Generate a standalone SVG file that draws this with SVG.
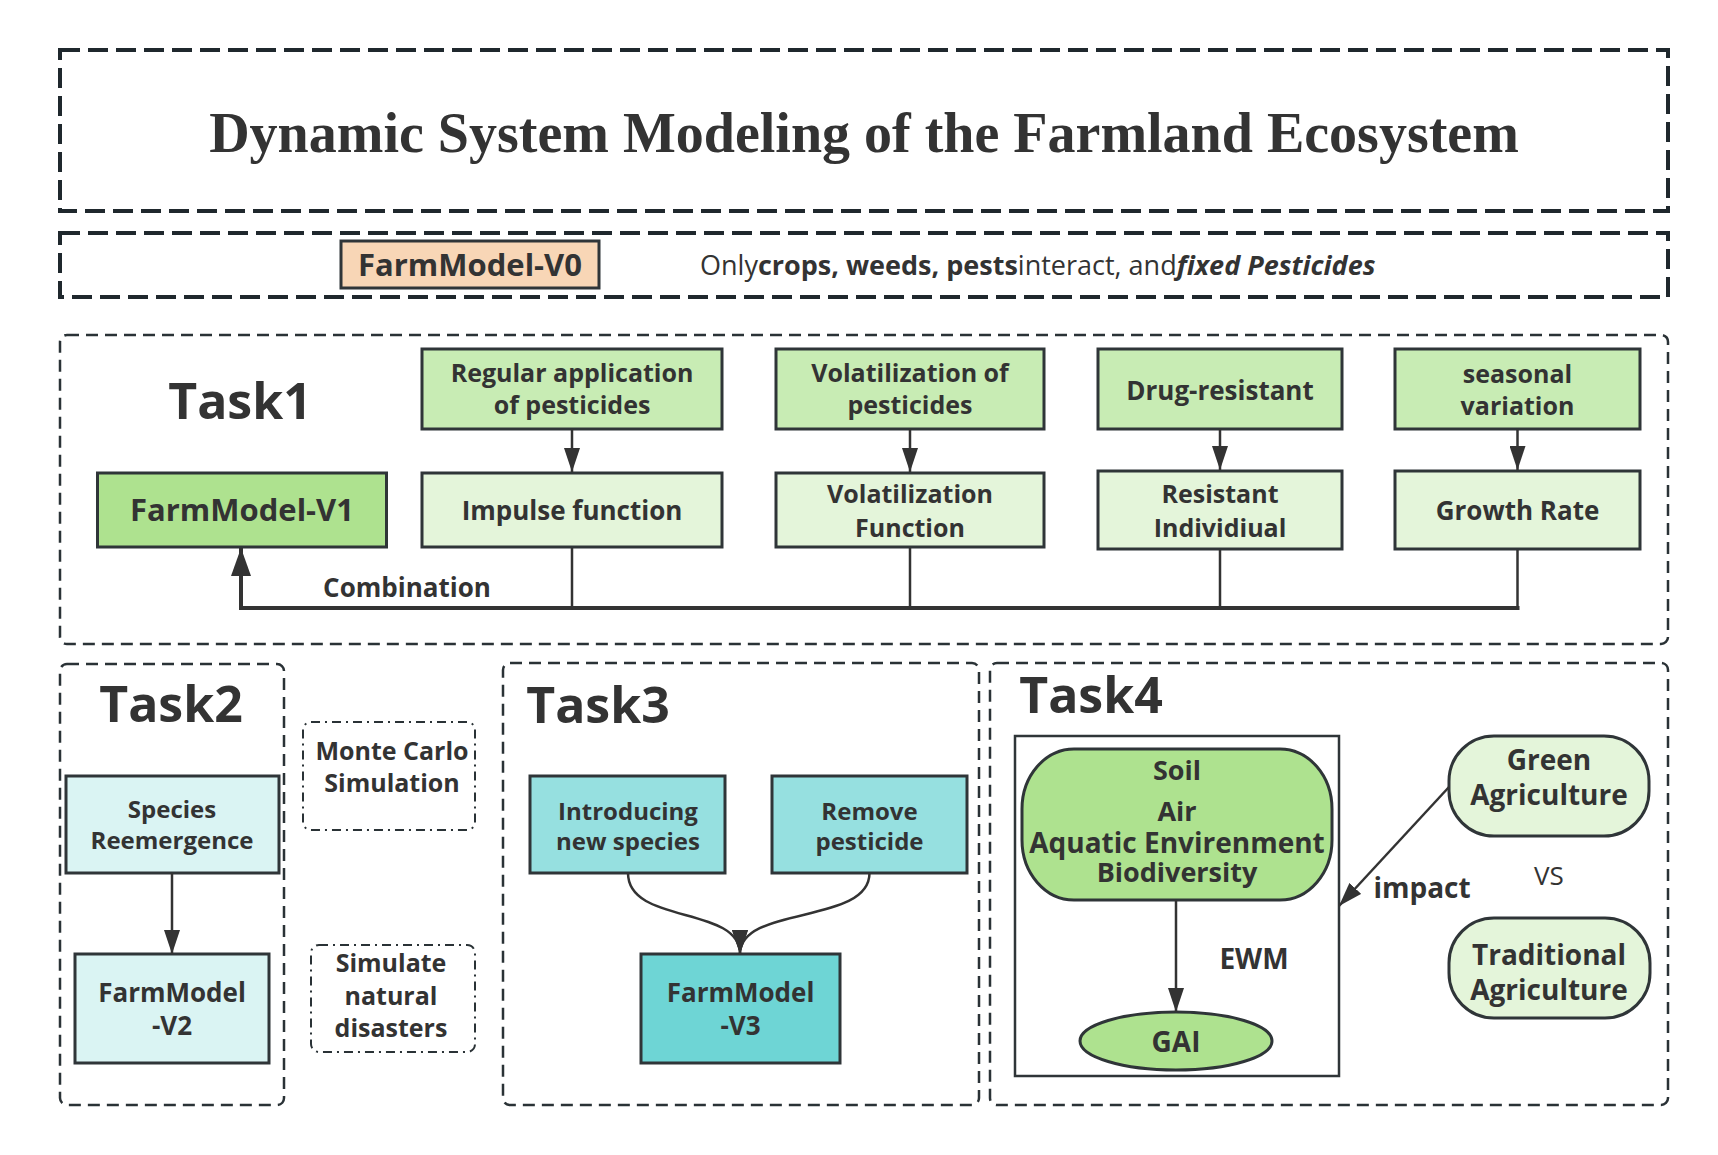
<svg xmlns="http://www.w3.org/2000/svg" width="1718" height="1155" viewBox="0 0 1718 1155">
<style>
.bg{fill:#ffffff}
.outer{fill:none;stroke:#1f282d;stroke-width:4;stroke-dasharray:20 8}
.group{fill:none;stroke:#2a3236;stroke-width:2.5;stroke-dasharray:12 7}
.dashdot{fill:none;stroke:#2a3236;stroke-width:2;stroke-dasharray:9 5 2 5}
.box{stroke:#2f3538;stroke-width:3}
.peach{fill:#F8D6B6}
.gmid{fill:#C8ECB4}
.glight{fill:#E4F5DA}
.gstrong{fill:#AEE28F}
.clight{fill:#DAF4F3}
.cmid{fill:#96E0E0}
.cstrong{fill:#6ED5D5}
.t{font-family:"Open Sans","Noto Sans","Liberation Sans",sans-serif;font-weight:700;fill:#333333;text-anchor:middle}
.title{font-family:"Liberation Serif","Times New Roman",serif;font-weight:700;fill:#333333;text-anchor:middle;font-size:56px}
.task{font-size:50px}
.s24{font-size:24px}
.s25{font-size:25px}
.s26{font-size:26px}
.s27{font-size:27px}
.s28{font-size:28px}
.s31{font-size:31px}
.conn{fill:none;stroke:#333333;stroke-width:2.5}
.combo{fill:none;stroke:#333333;stroke-width:4}
</style>
<defs>
<marker id="arr" viewBox="0 0 24 16" refX="24" refY="8" markerWidth="24" markerHeight="16" markerUnits="userSpaceOnUse" orient="auto">
<path d="M0,0 L24,8 L0,16 z" fill="#333333"/>
</marker>
<marker id="arrBig" viewBox="0 0 28 20" refX="28" refY="10" markerWidth="28" markerHeight="20" markerUnits="userSpaceOnUse" orient="auto">
<path d="M0,0 L28,10 L0,20 z" fill="#333333"/>
</marker>
</defs>
<rect class="bg" x="0" y="0" width="1718" height="1155"/>

<g id="title-box">
<rect class="outer" x="60" y="50" width="1608" height="161"/>
<text class="title" x="864" y="152">Dynamic System Modeling of the Farmland Ecosystem</text>
</g>

<g id="v0-band">
<rect class="outer" x="60" y="233" width="1608" height="64"/>
</g>
<g id="farmmodel-v0">
<rect class="box peach" x="341" y="241" width="258" height="47"/>
<text class="t s31" x="470" y="276">FarmModel-V0</text>
</g>
<g id="v0-description">
<text class="t s27" x="700" y="275" style="text-anchor:start"><tspan style="font-weight:400">Only</tspan><tspan>crops, weeds, pests</tspan><tspan style="font-weight:400">interact, and</tspan><tspan style="font-style:italic">fixed Pesticides</tspan></text>
</g>

<g id="task1">
<rect class="group" x="60" y="335" width="1608" height="309" rx="7"/>
<text class="t task" x="240" y="419">Task1</text>
</g>
<g id="farmmodel-v1">
<rect class="box gstrong" x="97.5" y="473" width="289" height="74"/>
<text class="t s31" x="242" y="521">FarmModel-V1</text>
</g>
<g id="regular-application">
<rect class="box gmid" x="422" y="349" width="300" height="80"/>
<text class="t s25" x="572" y="382">Regular application</text>
<text class="t s25" x="572" y="414">of pesticides</text>
</g>
<g id="impulse-function">
<rect class="box glight" x="422" y="473" width="300" height="74"/>
<text class="t s26" x="572" y="520">Impulse function</text>
</g>
<g id="volatilization-of-pesticides">
<rect class="box gmid" x="776" y="349" width="268" height="80"/>
<text class="t s25" x="910" y="382">Volatilization of</text>
<text class="t s25" x="910" y="414">pesticides</text>
</g>
<g id="volatilization-function">
<rect class="box glight" x="776" y="473" width="268" height="74"/>
<text class="t s25" x="910" y="503">Volatilization</text>
<text class="t s25" x="910" y="537">Function</text>
</g>
<g id="drug-resistant">
<rect class="box gmid" x="1098" y="349" width="244" height="80"/>
<text class="t s26" x="1220" y="400">Drug-resistant</text>
</g>
<g id="resistant-individual">
<rect class="box glight" x="1098" y="471" width="244" height="78"/>
<text class="t s25" x="1220" y="503">Resistant</text>
<text class="t s25" x="1220" y="537">Individiual</text>
</g>
<g id="seasonal-variation">
<rect class="box gmid" x="1395" y="349" width="245" height="80"/>
<text class="t s25" x="1517.5" y="383">seasonal</text>
<text class="t s25" x="1517.5" y="415">variation</text>
</g>
<g id="growth-rate">
<rect class="box glight" x="1395" y="471" width="245" height="78"/>
<text class="t s26" x="1517.5" y="520">Growth Rate</text>
</g>

<g id="task2">
<rect class="group" x="60" y="664" width="224" height="441" rx="7"/>
<text class="t task" x="171" y="722">Task2</text>
</g>
<g id="species-reemergence">
<rect class="box clight" x="66" y="776" width="213" height="97"/>
<text class="t s24" x="172" y="818">Species</text>
<text class="t s24" x="172" y="849">Reemergence</text>
</g>
<g id="farmmodel-v2">
<rect class="box clight" x="75" y="954" width="194" height="109"/>
<text class="t s26" x="172" y="1002">FarmModel</text>
<text class="t s26" x="172" y="1035">-V2</text>
</g>
<g id="monte-carlo">
<rect class="dashdot" x="303" y="722" width="172" height="108" rx="8"/>
<text class="t s25" x="392" y="760">Monte Carlo</text>
<text class="t s25" x="392" y="792">Simulation</text>
</g>
<g id="natural-disasters">
<rect class="dashdot" x="311" y="945" width="164" height="107" rx="8"/>
<text class="t s25" x="391" y="972">Simulate</text>
<text class="t s25" x="391" y="1005">natural</text>
<text class="t s25" x="391" y="1037">disasters</text>
</g>

<g id="task3">
<rect class="group" x="503" y="663" width="476" height="442" rx="7"/>
<text class="t task" x="598" y="723">Task3</text>
</g>
<g id="introducing-new-species">
<rect class="box cmid" x="530" y="776" width="195" height="97"/>
<text class="t s24" x="628" y="820">Introducing</text>
<text class="t s24" x="628" y="850">new species</text>
</g>
<g id="remove-pesticide">
<rect class="box cmid" x="772" y="776" width="195" height="97"/>
<text class="t s24" x="869.5" y="820">Remove</text>
<text class="t s24" x="869.5" y="850">pesticide</text>
</g>
<g id="farmmodel-v3">
<rect class="box cstrong" x="641" y="954" width="199" height="109"/>
<text class="t s26" x="740.5" y="1002">FarmModel</text>
<text class="t s26" x="740.5" y="1035">-V3</text>
</g>

<g id="task4">
<rect class="group" x="990" y="663" width="678" height="442" rx="7"/>
<text class="t task" x="1091" y="713">Task4</text>
</g>
<g id="environment-frame">
<rect fill="none" stroke="#2f3538" stroke-width="2.5" x="1015" y="736" width="324" height="340"/>
</g>
<g id="environment-factors">
<rect class="box gstrong" x="1022" y="749" width="310" height="151" rx="52" ry="60"/>
<text class="t s27" x="1177" y="780">Soil</text>
<text class="t s27" x="1177" y="821">Air</text>
<text class="t s28" x="1177" y="853">Aquatic Envirenment</text>
<text class="t s27" x="1177" y="882">Biodiversity</text>
</g>
<g id="gai">
<ellipse class="box gstrong" cx="1176" cy="1041" rx="96" ry="29"/>
<text class="t s28" x="1176" y="1052">GAI</text>
</g>
<g id="green-agriculture">
<rect class="box glight" x="1449" y="736" width="200" height="100" rx="45" ry="45"/>
<text class="t s28" x="1549" y="770">Green</text>
<text class="t s28" x="1549" y="805">Agriculture</text>
</g>
<g id="traditional-agriculture">
<rect class="box glight" x="1449" y="918" width="201" height="100" rx="45" ry="45"/>
<text class="t s28" x="1549" y="965">Traditional</text>
<text class="t s28" x="1549" y="1000">Agriculture</text>
</g>
<g id="vs-label">
<text class="t s26" style="font-weight:400" x="1549" y="885">VS</text>
</g>

<g id="connectors">
<line class="conn" x1="572" y1="429" x2="572" y2="472" marker-end="url(#arr)"/>
<line class="conn" x1="910" y1="429" x2="910" y2="472" marker-end="url(#arr)"/>
<line class="conn" x1="1220" y1="429" x2="1220" y2="470" marker-end="url(#arr)"/>
<line class="conn" x1="1517.5" y1="429" x2="1517.5" y2="470" marker-end="url(#arr)"/>
<line class="conn" x1="572" y1="548" x2="572" y2="608"/>
<line class="conn" x1="910" y1="548" x2="910" y2="608"/>
<line class="conn" x1="1220" y1="550" x2="1220" y2="608"/>
<line class="conn" x1="1517.5" y1="550" x2="1517.5" y2="608"/>
<path class="combo" d="M1519.5,608 H241 V548" marker-end="url(#arrBig)"/>
<text class="t s26" x="407" y="597">Combination</text>
<line class="conn" x1="172" y1="873" x2="172" y2="954" marker-end="url(#arr)"/>
<path class="conn" d="M628,873 C628,925 740,905 740,954" marker-end="url(#arr)"/>
<path class="conn" d="M869.5,873 C869.5,925 740,905 740,954" marker-end="url(#arr)"/>
<line class="conn" x1="1176" y1="900" x2="1176" y2="1012" marker-end="url(#arr)"/>
<text class="t s28" x="1254" y="969">EWM</text>
<line class="conn" x1="1449" y1="787" x2="1339" y2="906" marker-end="url(#arr)"/>
<text class="t s28" x="1422" y="898">impact</text>
</g>
</svg>
